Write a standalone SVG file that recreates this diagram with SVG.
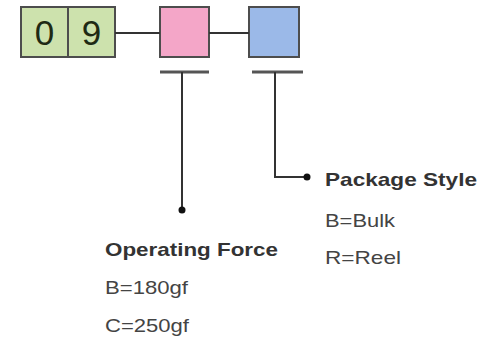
<svg xmlns="http://www.w3.org/2000/svg" width="486" height="345" viewBox="0 0 486 345">
<style>
.box{stroke:#4d4d4d;stroke-width:2}
.ln{stroke:#333;stroke-width:2;fill:none}
.bar{stroke:#555;stroke-width:3}
.dig{font-family:"Liberation Sans",Arial,sans-serif;font-size:35px;fill:#1e2a14;text-anchor:middle}
.ttl{font-family:"Liberation Sans",Arial,sans-serif;font-size:19px;font-weight:bold;fill:#333}
.opt{font-family:"Liberation Sans",Arial,sans-serif;font-size:19px;fill:#444}
</style>
<rect width="486" height="345" fill="#fff"/>
<g id="code">
<rect class="box" x="21" y="7" width="47" height="50" fill="#cde2ad"/>
<rect class="box" x="68" y="7" width="47" height="50" fill="#cde2ad"/>
<text class="dig" x="44.5" y="45">0</text>
<text class="dig" x="91.5" y="45">9</text>
</g>
<g id="force-box">
<rect class="box" x="160" y="7" width="49" height="50" fill="#f4a6c8"/>
</g>
<g id="package-box">
<rect class="box" x="249" y="7" width="50" height="50" fill="#9bb9e8"/>
</g>
<g id="connectors">
<line class="ln" x1="115" y1="33" x2="160" y2="33"/>
<line class="ln" x1="209" y1="33" x2="249" y2="33"/>
<line class="bar" x1="160" y1="72" x2="209" y2="72"/>
<line class="bar" x1="252" y1="72" x2="303" y2="72"/>
<line class="ln" x1="182" y1="72" x2="182" y2="210"/>
<circle cx="182" cy="210" r="3.5" fill="#111"/>
<polyline class="ln" points="275,72 275,177 307,177"/>
<circle cx="307" cy="177" r="3.5" fill="#111"/>
</g>
<g id="operating-force">
<text class="ttl" x="105" y="256" textLength="173" lengthAdjust="spacingAndGlyphs">Operating Force</text>
<text class="opt" x="105" y="294" textLength="83" lengthAdjust="spacingAndGlyphs">B=180gf</text>
<text class="opt" x="105" y="332" textLength="84" lengthAdjust="spacingAndGlyphs">C=250gf</text>
</g>
<g id="package-style">
<text class="ttl" x="325" y="186" textLength="152" lengthAdjust="spacingAndGlyphs">Package Style</text>
<text class="opt" x="325" y="227" textLength="70" lengthAdjust="spacingAndGlyphs">B=Bulk</text>
<text class="opt" x="325" y="264" textLength="76" lengthAdjust="spacingAndGlyphs">R=Reel</text>
</g>
</svg>
